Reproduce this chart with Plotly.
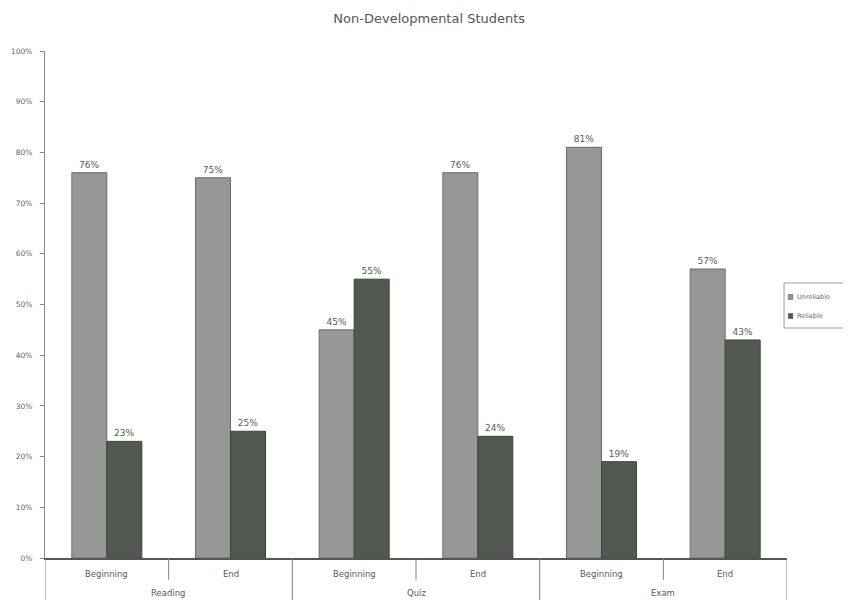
import plotly.graph_objects as go

outer = ["Reading", "Reading", "Quiz", "Quiz", "Exam", "Exam"]
inner = ["Beginning", "End", "Beginning", "End", "Beginning", "End"]
unreliable = [76, 75, 45, 76, 81, 57]
reliable = [23, 25, 55, 24, 19, 43]
series_names = ["Unreliable", "Reliable"]
series_colors = ["#959894", "#535853"]
y_ticks = [0, 10, 20, 30, 40, 50, 60, 70, 80, 90, 100]

cats = [f"{o} {i}" for o, i in zip(outer, inner)]
FONT = "DejaVu Sans"
TXT = "#5a5a5a"

fig = go.Figure()
for name, vals, col, edge in zip(series_names, [unreliable, reliable], series_colors,
                                 ["#6a6d69", "#3e423e"]):
    fig.add_trace(go.Bar(
        x=cats, y=vals, name=name,
        marker=dict(color=col, line=dict(color=edge, width=1)),
        text=[f"{v}%" for v in vals], textposition="outside",
        textfont=dict(size=9, color=TXT, family=FONT),
        cliponaxis=False,
    ))

# inner category labels
for c, lab in zip(cats, inner):
    fig.add_annotation(x=c, y=-0.031, xref="x", yref="paper", text=lab, showarrow=False,
                       yanchor="middle", font=dict(size=8.5, color=TXT, family=FONT))
# outer group labels
groups = []
for o in outer:
    if o not in groups:
        groups.append(o)
for k, g in enumerate(groups):
    fig.add_annotation(x=2 * k + 0.5, y=-0.069, xref="x", yref="paper", text=g, showarrow=False,
                       yanchor="middle", font=dict(size=8.5, color=TXT, family=FONT))

# dividers
n = len(cats)
for b in range(n + 1):
    long_div = (b % 2 == 0)
    fig.add_shape(type="line", xref="x", yref="paper",
                  x0=b - 0.5, x1=b - 0.5, y0=0, y1=-0.12 if long_div else -0.043,
                  line=dict(color="#808080", width=1))

# legend box (drawn manually to match the small swatches of the original)
fig.add_shape(type="rect", xref="paper", yref="paper", x0=0.996, x1=1.086, y0=0.4536, y1=0.5424,
              line=dict(color="#9a9a9a", width=1), fillcolor="white")
for k, (name, col) in enumerate(zip(series_names, series_colors)):
    yc = 0.5148 - k * 0.0375
    fig.add_shape(type="rect", xref="paper", yref="paper", x0=1.0018, x1=1.0078,
                  y0=yc - 0.005, y1=yc + 0.005, line=dict(color="#444444", width=0.5), fillcolor=col)
    fig.add_annotation(x=1.0105, y=yc, xref="paper", yref="paper", text=name, showarrow=False,
                       xanchor="left", yanchor="middle",
                       font=dict(size=6.5, color="#666666", family=FONT))

fig.update_layout(
    width=851, height=600,
    paper_bgcolor="white", plot_bgcolor="white",
    margin=dict(l=37, r=72, t=43, b=50, autoexpand=False),
    title=dict(text="Non-Developmental Students", x=0.495, xanchor="center", y=0.983, yanchor="middle",
               font=dict(size=13, color="#555555", family=FONT)),
    barmode="group", bargap=0.434, bargroupgap=0,
    font=dict(family=FONT, size=8, color=TXT),
    showlegend=False,
)
fig.update_xaxes(type="category", range=[-0.5, n - 0.5], showticklabels=False,
                 showline=True, linecolor="#555555", linewidth=1.5, ticks="",
                 showgrid=False)
fig.update_yaxes(range=[0, 100], tickvals=y_ticks, ticktext=[f"{v}%" for v in y_ticks],
                 showline=True, linecolor="#888888", linewidth=1, ticks="outside",
                 ticklen=4, tickcolor="#888888", showgrid=False, zeroline=False,
                 ticklabelstandoff=6,
                 tickfont=dict(size=7.5, color="#666666", family=FONT))

fig.write_html("out.html")
